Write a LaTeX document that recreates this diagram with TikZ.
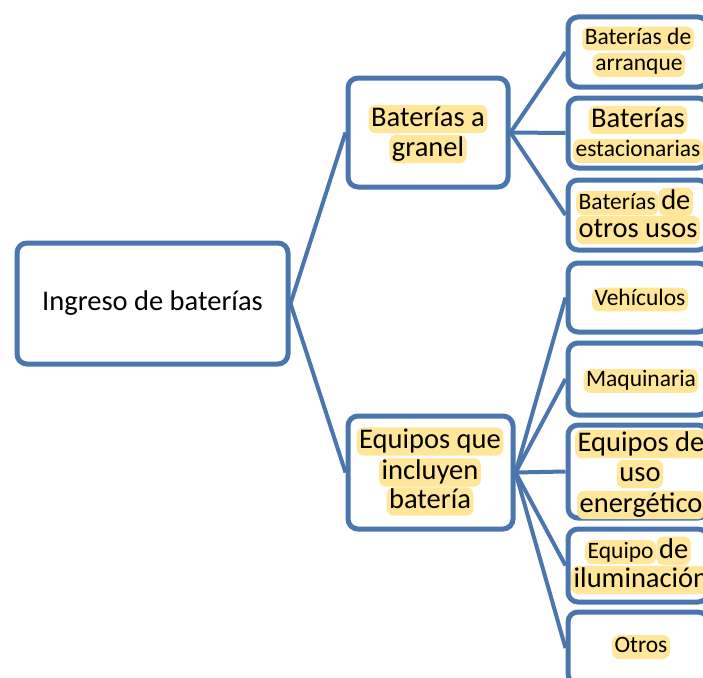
\documentclass[tikz,border=0pt]{standalone}
\usepackage{fontspec}
\setmainfont{Carlito}
\definecolor{sablue}{HTML}{4A75AD}
\definecolor{hlyel}{HTML}{FFE699}
\tikzset{
  box/.style={draw=sablue, line width=5pt, rounded corners=10pt, fill=white, inner sep=0pt},
  rbox/.style={box, minimum width=140pt},
  link/.style={draw=sablue, line width=4pt},
  hl/.style={fill=hlyel, rounded corners=7pt, inner xsep=2.5pt, inner ysep=1pt},
  big/.style={hl, font=\fontsize{28.5}{34}\selectfont, text height=20.3pt, text depth=6pt},
  small/.style={hl, font=\fontsize{23.5}{28}\selectfont, text height=16.8pt, text depth=5pt},
  plainbig/.style={font=\fontsize{28.5}{34}\selectfont},
}
\begin{document}
\begin{tikzpicture}[x=1pt,y=-1pt]
\useasboundingbox (0,0) rectangle (703,677);
\clip (0,0) rectangle (703,677);
\fill[white] (0,0) rectangle (703,677);

% boxes
\node[box, plainbig, minimum width=271pt, minimum height=121pt] (root) at (152.5,303.5) {Ingreso de baterías};
\node[box, minimum width=160pt, minimum height=109pt] (granel) at (428,132.5) {};
\node[box, minimum width=165pt, minimum height=113pt] (equipos) at (430.5,472.5) {};

\node[rbox, minimum height=70pt] (r1) at (638,52) {};
\node[rbox, minimum height=70pt] (r2) at (638,133) {};
\node[rbox, minimum height=70pt] (r3) at (638,215) {};
\node[rbox, minimum height=69pt] (r4) at (638,297.5) {};
\node[rbox, minimum height=72pt] (r5) at (638,379) {};
\node[rbox, minimum height=93pt] (r6) at (638,471.5) {};
\node[rbox, minimum height=73pt] (r7) at (638,565.5) {};
\node[rbox, minimum height=72pt] (r8) at (638,648) {};

% connectors
\draw[link] (root.east) -- (granel.west);
\draw[link] (root.east) -- (equipos.west);
\foreach \t in {r1,r2,r3} \draw[link] (granel.east) -- (\t.west);
\foreach \t in {r4,r5,r6,r7,r8} \draw[link] (equipos.east) -- (\t.west);

% texts
\node[big] (g1) at (428,119) {Baterías a};
\node[big] (g2) at (428,149) {granel};

\node[big] (e1) at (430,441.5) {Equipos que};
\node[big] (e2) at (430,472.5) {incluyen};
\node[big] (e3) at (430,501.5) {batería};

\node[small] (t1a) at (638,38.5) {Baterías de};
\node[small] (t1b) at (639,65) {arranque};

\node[big] (t2a) at (638,120) {Baterías};
\node[small] (t2b) at (638,151) {estacionarias};

\node[small,anchor=base west] (t3a) at (576,209) {Baterías};
\node[big,anchor=base west] (t3b) at (t3a.base east) {de};
\node[big] (t3c) at (638,230) {otros usos};

\node[small] (t4) at (640,299.5) {Vehículos};
\node[small] (t5) at (641,381) {Maquinaria};

\node[big] (t6a) at (641,444) {Equipos de};
\node[big] (t6b) at (640,474) {uso};
\node[big] (t6c) at (641,505) {energético};

\node[small,anchor=base west] (t7a) at (585,558) {Equipo};
\node[big,anchor=base west] (t7b) at (t7a.base east) {de};
\node[big] (t7c) at (641,580) {iluminación};

\node[small] (t8) at (641,647) {Otros};
\end{tikzpicture}
\end{document}
